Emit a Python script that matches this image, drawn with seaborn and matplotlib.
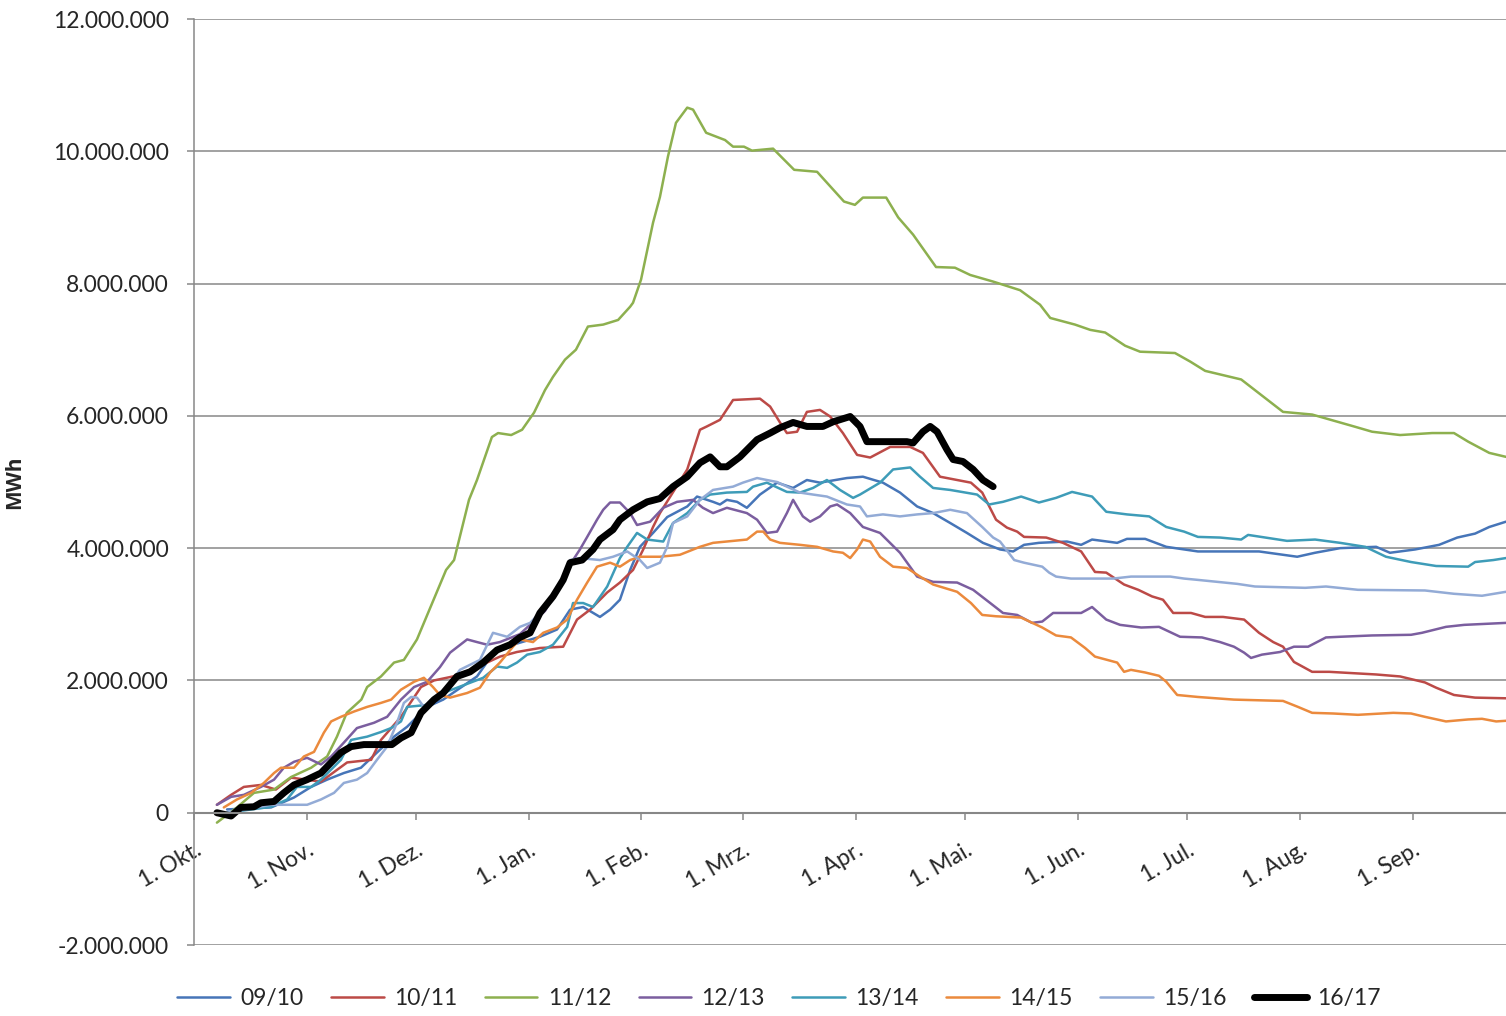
import numpy as np
import matplotlib
matplotlib.use('Agg')
import matplotlib.pyplot as plt
import seaborn as sns
from matplotlib.ticker import FuncFormatter

# days since 1 Oct, values in million MWh
d_0910 = [9.1, 21.2, 27.5, 32.2, 36.6, 41.2, 45.9, 50.3, 55, 58.6, 64.1, 68.5, 77.8, 83.3, 87.7, 95.1, 99.8,
          103.4, 107, 111.6, 114.4, 117.1, 119.9, 122.6, 126.2, 130.1, 135.6, 138.3, 142.7, 144.6, 146.5, 149.3,
          152, 155.6, 160.3, 164.7, 168.5, 172.1, 179.5, 183.9, 189.4, 194.1, 198.8, 203.2, 207.9, 212.5, 216.9,
          221.6, 225.2, 228.2, 232.3, 240, 243.9, 246.9, 253.8, 256.5, 261.5, 267.3, 276, 292.8, 303.3, 308.2,
          315.1, 325, 328.8, 335.7, 342.3, 347.3, 352.2, 356.1, 360.7]
v_0910 = [0.05, 0.08, 0.23, 0.39, 0.50, 0.60, 0.68, 0.91, 1.15, 1.30, 1.60, 1.71, 2.06, 2.49, 2.54, 2.66, 2.77,
          3.07, 3.11, 2.96, 3.07, 3.22, 3.67, 4.02, 4.23, 4.47, 4.63, 4.78, 4.70, 4.66, 4.73, 4.70,
          4.61, 4.81, 4.99, 4.91, 5.03, 4.99, 5.06, 5.08, 4.99, 4.84, 4.63, 4.53, 4.38, 4.23, 4.08,
          3.98, 3.95, 4.05, 4.08, 4.10, 4.05, 4.13, 4.08, 4.14, 4.14, 4.02, 3.95, 3.95, 3.87, 3.93,
          4.00, 4.02, 3.93, 3.98, 4.05, 4.16, 4.22, 4.32, 4.40]

d_1011 = [6.3, 10.2, 13.7, 18.4, 22.5, 26.7, 34.9, 42.1, 48.7, 51.4, 56.9, 62.4, 66.0, 71.2, 77.8, 84.1, 88.8,
          95.1, 101.5, 105.3, 108.9, 113.6, 117.1, 120.7, 123.5, 126.2, 128.1, 135.6, 139.1, 141.0, 144.6, 148.2,
          155.6, 158.4, 161.1, 163.0, 165.8, 168.5, 172.1, 174.9, 178.4, 182.3, 185.9, 191.4, 196.9, 200.4, 205.1,
          213.6, 216.7, 220.5, 223.5, 226.3, 228.2, 234.3, 238.9, 243.9, 247.7, 250.8, 255.7, 259.6, 263.4, 266.4,
          269.2, 274.1, 278, 282.9, 288.7, 292.8, 296.7, 299.4, 302.4, 307.4, 312.1, 325, 331.6, 338.4, 341.5,
          346.4, 352.2, 360.7]
v_1011 = [0.12, 0.27, 0.39, 0.42, 0.35, 0.53, 0.47, 0.76, 0.80, 1.10, 1.45, 1.90, 2.00, 2.06, 2.20, 2.36, 2.43,
          2.49, 2.51, 2.92, 3.07, 3.33, 3.48, 3.67, 3.98, 4.32, 4.53, 5.19, 5.79, 5.84, 5.94, 6.24,
          6.26, 6.14, 5.90, 5.74, 5.76, 6.06, 6.09, 5.99, 5.74, 5.41, 5.37, 5.53, 5.53, 5.44, 5.08,
          4.99, 4.84, 4.43, 4.31, 4.25, 4.17, 4.16, 4.08, 3.95, 3.64, 3.63, 3.45, 3.37, 3.27, 3.22,
          3.02, 3.02, 2.96, 2.96, 2.92, 2.72, 2.58, 2.51, 2.28, 2.13, 2.13, 2.09, 2.06, 1.97, 1.89,
          1.78, 1.74, 1.73]

d_1112 = [6.3, 11.8, 16.5, 22, 26.7, 32.2, 36.6, 39.3, 42, 46, 47.6, 51.4, 55, 57.7, 61.3,
          69.3, 71.5, 75.6, 77.8, 81.9, 83.6, 87.2, 90.2, 93.5, 96.5, 98.7, 102, 105, 108.3, 112.5, 116.6,
          119.9, 120.7, 122.9, 126.2, 128.1, 130.3, 132.5, 135.6, 137.2, 140.8, 146, 148.2, 151.2, 153.4, 159.2,
          165, 171.3, 178.7, 181.7, 183.9, 190.3, 193.6, 197.7, 204, 209.2, 213.4, 219.7,
          227.1, 232.6, 235.4, 242.2, 246.4, 250.5, 256, 260.1, 269.7, 273.9, 278,
          287.9, 299.4, 307.4, 318.9, 323.9, 331.6, 340.4, 346.4, 350.3, 356.1, 360.7]
v_1112 = [-0.15, 0.08, 0.30, 0.35, 0.54, 0.68, 0.85, 1.15, 1.51, 1.71, 1.90, 2.06, 2.27, 2.31, 2.62,
          3.67, 3.82, 4.73, 5.03, 5.68, 5.74, 5.71, 5.79, 6.05, 6.39, 6.59, 6.85, 7.00, 7.35, 7.38, 7.45,
          7.65, 7.71, 8.06, 8.92, 9.31, 9.92, 10.43, 10.66, 10.63, 10.28, 10.17, 10.07, 10.07, 10.01, 10.04,
          9.72, 9.69, 9.24, 9.19, 9.30, 9.30, 9.00, 8.74, 8.25, 8.24, 8.13, 8.03,
          7.90, 7.68, 7.48, 7.38, 7.30, 7.26, 7.06, 6.97, 6.95, 6.82, 6.68,
          6.55, 6.06, 6.02, 5.84, 5.76, 5.71, 5.74, 5.74, 5.61, 5.44, 5.38]

d_1213 = [6.3, 10.2, 13.7, 18.4, 22, 24.7, 27.5, 31.1, 34.9, 37.7, 41.2, 44.8, 49.5, 53.1, 56.9, 60.5, 64.1,
          67.6, 70.4, 75.1, 77.8, 80.6, 84.1, 89.6, 96.5, 100.6, 104.2, 106.1, 108.1, 110.8, 112.5, 114.4, 117.1,
          119.9, 121.8, 125.4, 129, 132.8, 137.2, 139.9, 142.7, 146.5, 152, 154.8, 157.5, 160.3, 163, 164.7,
          167.4, 169.4, 172.1, 174.9, 176.8, 180.4, 183.9, 188.6, 194.1, 198.8, 203.2, 209.8, 214.2, 218.9,
          222.4, 226.3, 230.4, 233.2, 236.2, 243.9, 246.9, 250.8, 254.6, 260.4, 265.3, 271.1, 277.1, 282.1,
          285.9, 288.7, 290.6, 293.6, 298.6, 302.4, 306.3, 311.2, 315.1, 323.9, 334.6, 337.6, 344.2, 349.2, 360.7]
v_1213 = [0.12, 0.24, 0.27, 0.39, 0.50, 0.68, 0.77, 0.83, 0.73, 0.85, 1.06, 1.28, 1.36, 1.45, 1.71, 1.90, 1.98,
          2.20, 2.42, 2.62, 2.58, 2.54, 2.58, 2.70, 3.05, 3.45, 3.82, 3.98, 4.17, 4.43, 4.58, 4.69, 4.69,
          4.53, 4.35, 4.40, 4.61, 4.70, 4.73, 4.61, 4.53, 4.61, 4.53, 4.43, 4.23, 4.25, 4.53, 4.73,
          4.48, 4.40, 4.48, 4.63, 4.66, 4.53, 4.32, 4.23, 3.93, 3.57, 3.49, 3.48, 3.37, 3.17,
          3.02, 2.99, 2.87, 2.89, 3.02, 3.02, 3.11, 2.92, 2.84, 2.80, 2.81, 2.66, 2.65, 2.58,
          2.51, 2.42, 2.34, 2.39, 2.43, 2.51, 2.51, 2.65, 2.66, 2.68, 2.69, 2.72, 2.81, 2.84, 2.87]

d_1314 = [9.1, 21.2, 25.6, 28.3, 32.2, 34.9, 40.4, 43.2, 47.6, 51.4, 54.2, 56.9, 58.6, 64.1, 68.5, 79.5, 83.3,
          86.1, 88.8, 91.6, 95.1, 98.7, 102.6, 104.2, 107, 109.7, 113.6, 117.1, 119.1, 121.8, 124.6, 129, 131.7,
          135.6, 139.1, 141.9, 146.5, 152, 153.7, 157.5, 163, 166.6, 170.2, 174, 177.6, 181.2, 183.1, 188.6,
          192.2, 196.9, 199.6, 203.2, 207.9, 215.3, 218.6, 222.4, 227.4, 232.3, 237, 241.4, 246.9, 250.8, 256.5,
          262.6, 267.3, 272.2, 276, 282.1, 287.9, 289.8, 300.5, 308.2, 315.1, 322, 327.7, 334.6, 341.5, 350.3,
          352.2, 357.2, 360.7]
v_1314 = [0.00, 0.09, 0.20, 0.39, 0.39, 0.50, 0.80, 1.10, 1.15, 1.22, 1.28, 1.38, 1.60, 1.63, 1.81, 2.04, 2.21,
          2.19, 2.27, 2.39, 2.43, 2.54, 2.81, 3.17, 3.17, 3.11, 3.42, 3.85, 4.02, 4.23, 4.13, 4.10, 4.38,
          4.53, 4.73, 4.81, 4.84, 4.85, 4.93, 4.99, 4.85, 4.84, 4.91, 5.03, 4.88, 4.76, 4.81, 4.99,
          5.19, 5.22, 5.08, 4.91, 4.88, 4.81, 4.66, 4.70, 4.78, 4.69, 4.76, 4.85, 4.78, 4.55, 4.51,
          4.48, 4.32, 4.25, 4.17, 4.16, 4.13, 4.20, 4.11, 4.13, 4.08, 4.02, 3.87, 3.79, 3.73, 3.72,
          3.79, 3.82, 3.85]

d_1415 = [8.2, 11.8, 15.7, 19.2, 22, 23.9, 27.5, 30.2, 33, 35.7, 37.7, 40.4, 44, 47.6, 51.4, 54.2, 56.9, 60.5,
          63.2, 65.7, 67.6, 70.4, 75.1, 78.6, 81.4, 84.1, 87.7, 89.6, 93.2, 96, 99.8, 102.6, 105.3, 108.1, 110.8,
          114.4, 117.1, 119.9, 122.6, 128.1, 133.6, 139.1, 142.7, 152, 154.8, 156.5, 158.4, 161.1, 166.6, 171.3,
          175.7, 178.4, 180.4, 182.3, 183.9, 185.9, 188.6, 192.2, 196, 199.6, 203.2, 209.8, 213.6, 216.7, 220.5,
          227.4, 233.2, 237, 241.1, 245, 247.7, 253.8, 255.7, 257.6, 261.5, 265.3, 267.3, 270.3, 276, 285.9,
          299.4, 303.5, 307.4, 313.2, 320, 329.7, 334.6, 338.4, 344.2, 350.3, 354.1, 358, 360.7]
v_1415 = [0.08, 0.20, 0.30, 0.45, 0.60, 0.68, 0.68, 0.85, 0.92, 1.21, 1.38, 1.45, 1.53, 1.60, 1.66, 1.71, 1.86, 1.98,
          2.04, 1.90, 1.78, 1.74, 1.81, 1.89, 2.12, 2.27, 2.51, 2.62, 2.58, 2.72, 2.80, 2.92, 3.22, 3.48, 3.72,
          3.78, 3.72, 3.82, 3.87, 3.87, 3.90, 4.02, 4.08, 4.13, 4.25, 4.25, 4.13, 4.08, 4.05, 4.02,
          3.95, 3.93, 3.85, 3.98, 4.13, 4.10, 3.87, 3.72, 3.70, 3.57, 3.45, 3.34, 3.17, 2.99, 2.97,
          2.95, 2.80, 2.68, 2.65, 2.49, 2.36, 2.27, 2.13, 2.16, 2.12, 2.07, 1.98, 1.78, 1.75, 1.71,
          1.69, 1.60, 1.51, 1.50, 1.48, 1.51, 1.50, 1.45, 1.38, 1.41, 1.42, 1.38, 1.39]

d_1516 = [9.1, 21.2, 31.1, 34.9, 38.5, 41.2, 44.8, 47.6, 50.3, 53.1, 55.8, 57.7, 59.7, 61.3, 63.2, 67.6, 70.4,
          73.1, 78.6, 82.2, 86.1, 89.6, 92.4, 98.7, 100.6, 103.4, 106.1, 111.6, 115.2, 119.1, 122.6, 124.6, 128.1,
          130.1, 131.7, 135.6, 139.1, 142.7, 148.2, 150.9, 154.8, 157.5, 160.3, 163, 166.6, 170.2, 174, 179.5,
          183.1, 185, 189.4, 194.1, 198.8, 203.2, 207.9, 212.5, 216.7, 219.7, 221.6, 225.5, 228.2, 233.2, 235.1,
          237, 241.1, 252.7, 257.6, 268.4, 272.2, 276, 286.8, 291.7, 305.5, 311.2, 320, 338.4, 346.4, 354.1, 360.7]
v_1516 = [0.00, 0.12, 0.12, 0.20, 0.30, 0.45, 0.50, 0.60, 0.80, 1.00, 1.36, 1.66, 1.75, 1.74, 1.60, 1.80, 1.95,
          2.16, 2.31, 2.72, 2.66, 2.81, 2.87, 3.22, 3.42, 3.82, 3.85, 3.82, 3.87, 3.95, 3.82, 3.70, 3.78,
          4.02, 4.38, 4.48, 4.73, 4.88, 4.93, 4.99, 5.06, 5.03, 5.00, 4.93, 4.84, 4.81, 4.78, 4.66,
          4.63, 4.48, 4.51, 4.48, 4.51, 4.53, 4.58, 4.53, 4.32, 4.16, 4.10, 3.82, 3.78, 3.72, 3.63,
          3.57, 3.54, 3.54, 3.57, 3.57, 3.54, 3.52, 3.46, 3.42, 3.40, 3.42, 3.37, 3.36, 3.31, 3.28, 3.34]

d_1617 = [6.3, 10.2, 12.9, 16.5, 18.4, 22, 24.7, 27.5, 31.1, 34.9, 37.7, 40.4, 43.2, 46.7, 54.4, 56.9, 59.7,
          62.4, 66, 68.5, 72.3, 75.9, 79.5, 83.3, 86.9, 89.6, 92.4, 95.1, 98.7, 101.5, 103.4, 106.7, 109.7,
          111.6, 115.2, 117.1, 120.7, 124.6, 128.1, 131.7, 135.6, 139.1, 141.9, 144.6, 146.5, 150.1, 154.8,
          158.4, 161.1, 164.7, 168.5, 172.9, 175.7, 180.4, 183.1, 185, 189.4, 196, 197.7, 200.4, 202.4, 204.3,
          207, 208.7, 211.4, 214.2, 216.9, 219.7]
v_1617 = [0.00, -0.05, 0.08, 0.09, 0.15, 0.17, 0.30, 0.42, 0.50, 0.60, 0.76, 0.91, 1.00, 1.03, 1.03, 1.13, 1.21,
          1.51, 1.71, 1.81, 2.06, 2.13, 2.27, 2.46, 2.54, 2.65, 2.72, 3.02, 3.27, 3.52, 3.78, 3.82, 3.98,
          4.13, 4.28, 4.43, 4.58, 4.70, 4.75, 4.93, 5.08, 5.29, 5.38, 5.23, 5.23, 5.38, 5.64,
          5.74, 5.82, 5.90, 5.84, 5.84, 5.91, 5.99, 5.84, 5.61, 5.61, 5.61, 5.59, 5.76, 5.84, 5.76,
          5.49, 5.34, 5.31, 5.19, 5.03, 4.93]

month_days = [0, 31, 61, 92, 123, 151, 182, 212, 243, 273, 304, 335]
month_labels = ['1. Okt.', '1. Nov.', '1. Dez.', '1. Jan.', '1. Feb.', '1. Mrz.', '1. Apr.',
                '1. Mai.', '1. Jun.', '1. Jul.', '1. Aug.', '1. Sep.']

series = [
    ('09/10', d_0910, v_0910, '#4675B8', 1.8),
    ('10/11', d_1011, v_1011, '#BC4A47', 1.8),
    ('11/12', d_1112, v_1112, '#8DB04F', 1.8),
    ('12/13', d_1213, v_1213, '#7B5E9F', 1.8),
    ('13/14', d_1314, v_1314, '#3E9CB8', 1.8),
    ('14/15', d_1415, v_1415, '#EB8A3D', 1.8),
    ('15/16', d_1516, v_1516, '#93ABD6', 1.8),
    ('16/17', d_1617, v_1617, '#000000', 5.0),
]

sns.set_theme(style='white')
plt.rcParams['font.family'] = ['Lato', 'DejaVu Sans']

grey = '#878787'
fig = plt.figure(figsize=(15.06, 10.16), dpi=100)
ax = fig.add_axes([194 / 1506, 1 - 945 / 1016, 1 - 194 / 1506, (945 - 19) / 1016])

for label, d, v, c, lw in series:
    sns.lineplot(x=d, y=np.array(v) * 1e6, ax=ax, color=c, linewidth=lw, label=label,
                 sort=False, estimator=None, solid_joinstyle='round', solid_capstyle='round')

ax.set_xlim(0, 360.7)
ax.set_ylim(-2e6, 12e6)
ax.set_yticks(np.arange(-2e6, 12.1e6, 2e6))
ax.yaxis.set_major_formatter(FuncFormatter(lambda v, _: f"{int(round(v)):,}".replace(',', '.')))
ax.grid(axis='y', color=grey, lw=1.1)
ax.set_axisbelow(True)

for s in ['top', 'right']:
    ax.spines[s].set_visible(False)
ax.spines['left'].set_color(grey)
ax.spines['left'].set_linewidth(1.1)
ax.spines['bottom'].set_position(('data', 0))
ax.spines['bottom'].set_color(grey)
ax.spines['bottom'].set_linewidth(1.5)

ax.set_xticks(month_days)
ax.set_xticklabels(month_labels, rotation=30, ha='right', rotation_mode='anchor')
ax.tick_params(axis='x', direction='out', length=5, width=1.1, color=grey, pad=14, labelsize=16.5,
               bottom=True)
ax.tick_params(axis='y', direction='out', length=5, width=1.1, color=grey, pad=13, labelsize=16.5,
               left=True)
ax.set_xlabel('')
ax.set_ylabel('MWh', fontweight='bold', fontsize=15, family=['Open Sans', 'DejaVu Sans'])
ax.yaxis.set_label_coords(-169 / 1312, 0.5)

handles, labels = ax.get_legend_handles_labels()
ax.legend(handles, labels, loc='center', bbox_to_anchor=(779 / 1506, 1 - 999 / 1016),
          bbox_transform=fig.transFigure, ncol=8, frameon=False, fontsize=16.5,
          handlelength=2.3, handletextpad=0.45, columnspacing=1.2)

fig.savefig('out.png', dpi=100)
